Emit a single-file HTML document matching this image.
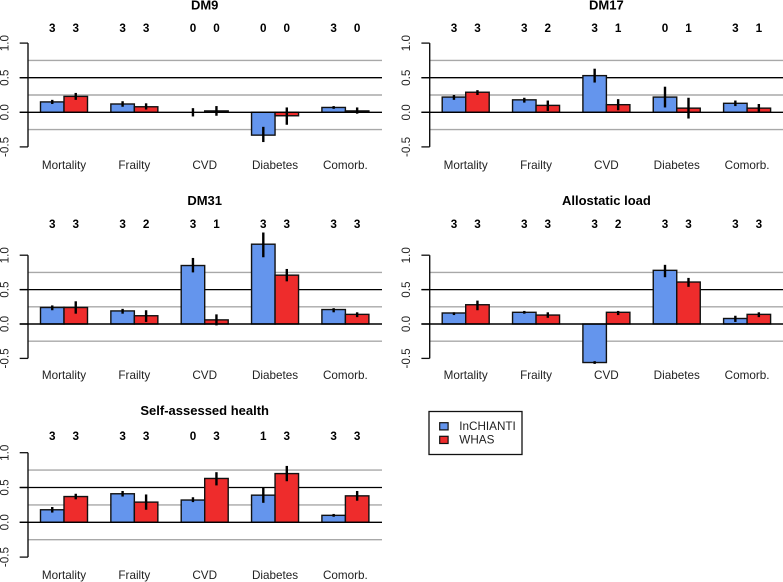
<!DOCTYPE html>
<html>
<head>
<meta charset="utf-8">
<title>Bar chart panels</title>
<style>
html,body{margin:0;padding:0;background:#fff;}
#chart{display:block;width:783px;height:582px;font-family:"Liberation Sans",sans-serif;filter:blur(0.35px);}
</style>
</head>
<body>
<svg id="chart" xmlns="http://www.w3.org/2000/svg" width="783" height="582" viewBox="0 0 783 582"></svg>
<script>
// ---- data ----
const categories = ["Mortality", "Frailty", "CVD", "Diabetes", "Comorb."];
const seriesNames = ["InCHIANTI", "WHAS"];
const yTicks = [1.0, 0.5, 0.0, -0.5];
const yTickLabels = ["1.0", "0.5", "0.0", "-0.5"];
const greyLines = [0.75, 0.25, -0.25];
const blackLines = [0.5, 0];
const panelTitles = ["DM9", "DM17", "DM31", "Allostatic load", "Self-assessed health"];

const dm9Blue = [0.15, 0.12, 0.00, -0.33, 0.07];
const dm9Red = [0.23, 0.08, 0.02, -0.05, 0.02];
const dm9BlueLow = [0.12, 0.08, -0.06, -0.43, 0.05];
const dm9BlueHigh = [0.18, 0.16, 0.06, -0.21, 0.09];
const dm9RedLow = [0.18, 0.04, -0.05, -0.18, -0.02];
const dm9RedHigh = [0.28, 0.13, 0.09, 0.07, 0.07];
const dm9CountsBlue = [3, 3, 0, 0, 3];
const dm9CountsRed = [3, 3, 0, 0, 0];

const dm17Blue = [0.22, 0.18, 0.53, 0.22, 0.13];
const dm17Red = [0.29, 0.10, 0.11, 0.06, 0.06];
const dm17BlueLow = [0.18, 0.14, 0.43, 0.07, 0.09];
const dm17BlueHigh = [0.25, 0.21, 0.63, 0.37, 0.17];
const dm17RedLow = [0.25, 0.02, 0.03, -0.09, 0.01];
const dm17RedHigh = [0.32, 0.17, 0.19, 0.21, 0.12];
const dm17CountsBlue = [3, 3, 3, 0, 3];
const dm17CountsRed = [3, 2, 1, 1, 1];

const dm31Blue = [0.24, 0.19, 0.85, 1.16, 0.21];
const dm31Red = [0.24, 0.12, 0.06, 0.71, 0.14];
const dm31BlueLow = [0.20, 0.15, 0.75, 0.97, 0.17];
const dm31BlueHigh = [0.27, 0.22, 0.96, 1.33, 0.23];
const dm31RedLow = [0.15, 0.03, -0.02, 0.62, 0.10];
const dm31RedHigh = [0.33, 0.20, 0.14, 0.80, 0.17];
const dm31CountsBlue = [3, 3, 3, 3, 3];
const dm31CountsRed = [3, 2, 1, 3, 3];

const alloBlue = [0.16, 0.17, -0.56, 0.78, 0.08];
const alloRed = [0.28, 0.13, 0.17, 0.61, 0.14];
const alloBlueLow = [0.13, 0.15, -0.58, 0.68, 0.03];
const alloBlueHigh = [0.17, 0.19, -0.54, 0.86, 0.12];
const alloRedLow = [0.20, 0.09, 0.13, 0.54, 0.10];
const alloRedHigh = [0.34, 0.17, 0.19, 0.67, 0.17];
const alloCountsBlue = [3, 3, 3, 3, 3];
const alloCountsRed = [3, 3, 2, 3, 3];

const sahBlue = [0.18, 0.41, 0.32, 0.39, 0.10];
const sahRed = [0.37, 0.29, 0.63, 0.70, 0.38];
const sahBlueLow = [0.14, 0.37, 0.29, 0.28, 0.08];
const sahBlueHigh = [0.22, 0.45, 0.36, 0.50, 0.12];
const sahRedLow = [0.33, 0.18, 0.53, 0.59, 0.31];
const sahRedHigh = [0.41, 0.40, 0.72, 0.81, 0.45];
const sahCountsBlue = [3, 3, 0, 1, 3];
const sahCountsRed = [3, 3, 3, 3, 3];

const panelBlue = [dm9Blue, dm17Blue, dm31Blue, alloBlue, sahBlue];
const panelRed = [dm9Red, dm17Red, dm31Red, alloRed, sahRed];
const panelBlueLow = [dm9BlueLow, dm17BlueLow, dm31BlueLow, alloBlueLow, sahBlueLow];
const panelBlueHigh = [dm9BlueHigh, dm17BlueHigh, dm31BlueHigh, alloBlueHigh, sahBlueHigh];
const panelRedLow = [dm9RedLow, dm17RedLow, dm31RedLow, alloRedLow, sahRedLow];
const panelRedHigh = [dm9RedHigh, dm17RedHigh, dm31RedHigh, alloRedHigh, sahRedHigh];
const panelCountsBlue = [dm9CountsBlue, dm17CountsBlue, dm31CountsBlue, alloCountsBlue, sahCountsBlue];
const panelCountsRed = [dm9CountsRed, dm17CountsRed, dm31CountsRed, alloCountsRed, sahCountsRed];

// ---- layout ----
const BLUE = "#6495ED";
const RED = "#EE2C2C";
const COLX = [0, 401.7];
const COLEND = [382, 783];
const ROWS = [
  {zero: 112.3, unit: 69.2, title: 5, counts: 28.7, labels: 165.3},
  {zero: 324.0, unit: 68.8, title: 200.7, counts: 224.3, labels: 375.3},
  {zero: 522.3, unit: 69.6, title: 410.7, counts: 436.7, labels: 575.3}
];
const AXIS_X = 28, TICK_X = 19.7, TICKLABEL_X = 5, GROUP0 = 64, GROUP_STEP = 70.35, BAR_W = 23.5;

const svg = document.getElementById("chart");
function make(tag, parent) {
  const el = document.createElementNS("http://www.w3.org/2000/svg", tag);
  parent.appendChild(el);
  return el;
}
function line(parent, x1, y1, x2, y2, color, width) {
  const el = make("line", parent);
  el.setAttribute("x1", x1); el.setAttribute("y1", y1);
  el.setAttribute("x2", x2); el.setAttribute("y2", y2);
  el.setAttribute("stroke", color); el.setAttribute("stroke-width", width);
  return el;
}
function label(parent, x, y, str, size, bold, color) {
  const el = make("text", parent);
  el.setAttribute("x", x); el.setAttribute("y", y);
  el.setAttribute("text-anchor", "middle");
  el.setAttribute("dominant-baseline", "central");
  el.setAttribute("font-size", size);
  if (bold) el.setAttribute("font-weight", "bold");
  el.setAttribute("fill", color);
  el.textContent = str;
  return el;
}

panelTitles.forEach(function (title, p) {
  const row = ROWS[Math.floor(p / 2)];
  const col = p % 2;
  const ox = COLX[col];
  const endX = COLEND[col];
  const yOf = function (v) { return row.zero - v * row.unit; };
  const xOf = function (g) { return ox + GROUP0 + g * GROUP_STEP; };

  const g = make("g", svg);
  
  

  const t = label(g, xOf(2), row.title, title, 13, true, "#000");
  
  

  greyLines.forEach(function (v) {
    const el = line(g, ox + AXIS_X, yOf(v), endX, yOf(v), "#a8a8a8", 1.4);
    
    
  });
  blackLines.forEach(function (v) {
    if (v === 0) return;
    const el = line(g, ox + AXIS_X, yOf(v), endX, yOf(v), "#000", 1.3);
    
    
  });

  const axis = line(g, ox + AXIS_X, yOf(yTicks[0]), ox + AXIS_X, yOf(yTicks[yTicks.length - 1]), "#111", 1.4);
  
  
  yTicks.forEach(function (v, i) {
    const tick = line(g, ox + TICK_X, yOf(v), ox + AXIS_X, yOf(v), "#111", 1.3);
    
    
    const lx = ox + TICKLABEL_X, ly = yOf(v);
    const tl = label(g, lx, ly, yTickLabels[i], 11.7, false, "#222");
    tl.setAttribute("transform", "rotate(-90 " + lx + " " + ly + ")");
    
    
  });

  categories.forEach(function (cat, c) {
    const cx = xOf(c);
    [[panelBlue[p], BLUE, -1, panelBlueLow[p], panelBlueHigh[p], panelCountsBlue[p]],
     [panelRed[p], RED, 0, panelRedLow[p], panelRedHigh[p], panelCountsRed[p]]].forEach(function (s, k) {
      const val = s[0][c];
      const bar = make("rect", g);
      bar.setAttribute("x", cx + s[2] * BAR_W);
      bar.setAttribute("y", Math.min(yOf(val), yOf(0)));
      bar.setAttribute("width", BAR_W);
      bar.setAttribute("height", Math.abs(yOf(val) - yOf(0)));
      bar.setAttribute("fill", s[1]);
      bar.setAttribute("stroke", "#111");
      bar.setAttribute("stroke-width", 1.4);
      
      

      const mid = cx + (s[2] + 0.5) * BAR_W;
      const err = line(g, mid, yOf(s[3][c]), mid, yOf(s[4][c]), "#000", 2.4);
      
      

      const n = label(g, mid, row.counts, String(s[5][c]), 11.7, true, "#000");
      
      
    });
    const cl = label(g, cx, row.labels, cat, 11.7, false, "#222");
    
    
  });

  const zero = line(g, ox + TICK_X, yOf(0), endX, yOf(0), "#000", 1.4);
  
  
  const half = line(g, ox + TICK_X, yOf(0.5), ox + AXIS_X, yOf(0.5), "#000", 1.3);
  
  
});

// ---- legend ----
const legend = make("g", svg);


const box = make("rect", legend);
box.setAttribute("x", 429); box.setAttribute("y", 411.5);
box.setAttribute("width", 93); box.setAttribute("height", 43);
box.setAttribute("fill", "#fff"); box.setAttribute("stroke", "#111"); box.setAttribute("stroke-width", 1.3);


seriesNames.forEach(function (name, i) {
  const ky = 422.7 + i * 13.6;
  const key = make("rect", legend);
  key.setAttribute("x", 439.7); key.setAttribute("y", ky);
  key.setAttribute("width", 8.4); key.setAttribute("height", 7.2);
  key.setAttribute("fill", i === 0 ? BLUE : RED);
  key.setAttribute("stroke", "#111"); key.setAttribute("stroke-width", 1.2);
  
  
  const txt = label(legend, 459.3, ky + 3.8, name, 11.7, false, "#222");
  txt.setAttribute("text-anchor", "start");
  
  
});
</script>
</body>
</html>
